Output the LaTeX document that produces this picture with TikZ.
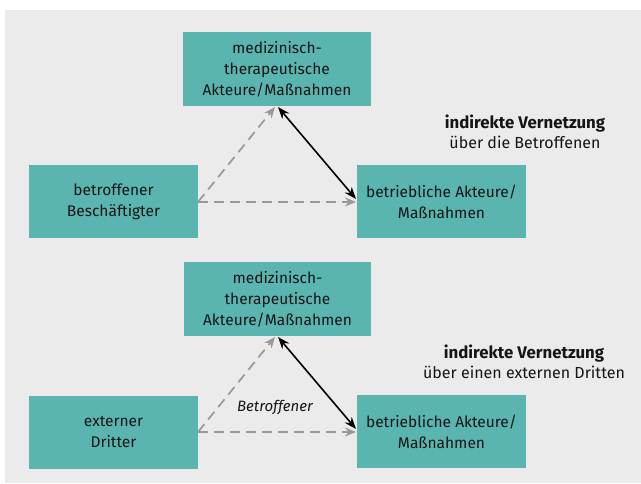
\documentclass[tikz,border=0pt]{standalone}
\usepackage{fontspec}
\setmainfont{Fira Sans}
\usetikzlibrary{arrows.meta}
\definecolor{teal1}{HTML}{5AB5B0}
\definecolor{bggray}{HTML}{EBEBEB}
\definecolor{txt}{HTML}{151515}
\definecolor{dgray}{HTML}{999999}
\begin{document}
\begin{tikzpicture}[x=1pt,y=-1pt,
  box/.style={fill=teal1,draw=none,text=txt,align=center,font=\fontsize{15.5}{21}\selectfont,inner sep=0pt},
  lbl/.style={text=txt,align=center,font=\fontsize{16}{20.5}\selectfont},
  dasharrow/.style={draw=dgray,line width=1.7pt,dash pattern=on 10pt off 6pt,-{Stealth[length=11pt,width=9pt]}},
  dblarrow/.style={draw=black,line width=1.6pt,{Stealth[length=12pt,width=9pt]}-{Stealth[length=12pt,width=9pt]}}]
\useasboundingbox (0,0) rectangle (641,484);
\fill[bggray] (5,10) rectangle (641,483);
% section 1
\node[box,minimum width=188pt,minimum height=74pt] (m1) at (277,69) {medizinisch-\\therapeutische\\Akteure/Maßnahmen};
\node[box,minimum width=169pt,minimum height=73pt] (b1) at (113.5,201.5) {betroffener\\Beschäftigter};
\node[box,minimum width=169pt,minimum height=73pt] (r1) at (441.5,201.5) {betriebliche Akteure/\\Maßnahmen};
\coordinate (s1) at (198,202);
\draw[dasharrow] (s1) -- (275,107);
\draw[dasharrow] (s1) -- (356,202);
\draw[dblarrow] (278,107) -- (356,199);
\node[lbl] (t1) at (525,132) {{\fontsize{16.8}{20.5}\selectfont\textbf{indirekte Vernetzung}}\\über die Betroffenen};
% section 2
\node[box,minimum width=187pt,minimum height=74pt] (m2) at (277.5,299) {medizinisch-\\therapeutische\\Akteure/Maßnahmen};
\node[box,minimum width=169pt,minimum height=73pt] (b2) at (113.5,432.5) {externer\\Dritter};
\node[box,minimum width=169pt,minimum height=73pt] (r2) at (441.5,431.5) {betriebliche Akteure/\\Maßnahmen};
\coordinate (s2) at (198,432);
\draw[dasharrow] (s2) -- (275,337);
\draw[dasharrow] (s2) -- (356,432);
\draw[dblarrow] (278,337) -- (356,429);
\node[lbl,font=\fontsize{15}{20}\selectfont\itshape] (bt) at (275,407) {Betroffener};
\node[lbl] (t2) at (524,362) {{\fontsize{16.8}{20.5}\selectfont\textbf{indirekte Vernetzung}}\\über einen externen Dritten};
\end{tikzpicture}
\end{document}
